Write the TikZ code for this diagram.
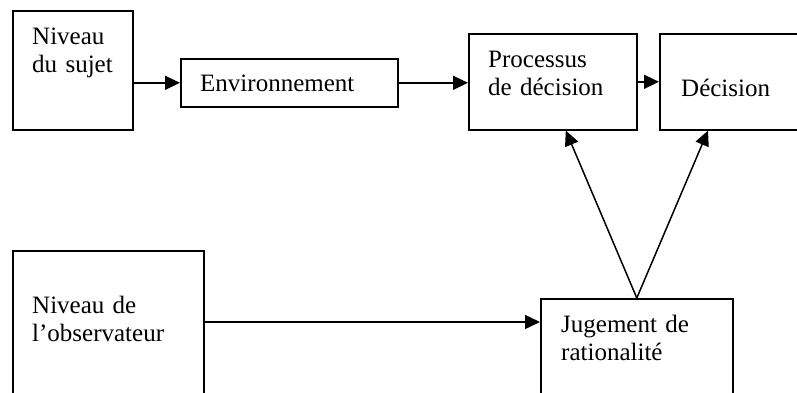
\documentclass[tikz,border=0pt]{standalone}
\usepackage{fontspec}
\setmainfont{Liberation Serif}
\usetikzlibrary{arrows.meta}
\tikzset{
	boxnode/.style = {
		draw=black,
		line width=1.6pt,
		anchor=north west,
		inner sep=0pt
	},
	boxtext/.style = {
		anchor=base west,
		inner sep=0pt,
		align=left,
		text width=180pt,
		font=\fontsize{25}{28}\selectfont
	},
	link/.style = {
		-{Triangle[length=15pt,width=14pt]},
		line width=1.5pt
	},
}

\begin{document}
\begin{tikzpicture}[x=1pt,y=-1pt]
\useasboundingbox (0,0) rectangle (797,393);
\clip (0,0) rectangle (797,393);
% boxes
\node [boxnode, minimum width=120pt, minimum height=119pt] (sujet) at (12,10) {};
\node [boxnode, minimum width=217pt, minimum height=48pt] (env) at (180,58) {};
\node [boxnode, minimum width=168pt, minimum height=96pt] (proc) at (468,33) {};
\node [boxnode, minimum width=170pt, minimum height=96pt] (dec) at (659,33) {};
\node [boxnode, minimum width=191pt, minimum height=160pt] (obs) at (12,250) {};
\node [boxnode, minimum width=192pt, minimum height=110pt] (jug) at (540,298) {};
% texts
\node [boxtext] (t_sujet) at ([xshift=20pt,yshift=-35pt]sujet.north west) {Niveau\\du sujet};
\node [boxtext] (t_env) at ([xshift=20pt,yshift=-34pt]env.north west) {Environnement};
\node [boxtext] (t_proc) at ([xshift=20pt,yshift=-35pt]proc.north west) {Processus\\de décision};
\node [boxtext] (t_dec) at ([xshift=22pt,yshift=-64pt]dec.north west) {Décision};
\node [boxtext] (t_obs) at ([xshift=20pt,yshift=-63pt]obs.north west) {Niveau de\\l’observateur};
\node [boxtext] (t_jug) at ([xshift=21pt,yshift=-34pt]jug.north west) {Jugement de\\rationalité};
% arrows
\coordinate (jug_in) at ([yshift=-24pt]jug.north west);
\draw [link] (sujet.east |- env.west) -- (env.west);
\draw [link] (env.east) -- (env.east -| proc.west);
\draw [link] (proc.east) -- (dec.west);
\draw [link] (obs.east |- jug_in) -- (jug_in);
\draw [link] (jug.north) -- ([xshift=13pt]proc.south);
\draw [link] (jug.north) -- ([xshift=49pt]dec.south west);
\end{tikzpicture}
\end{document}
